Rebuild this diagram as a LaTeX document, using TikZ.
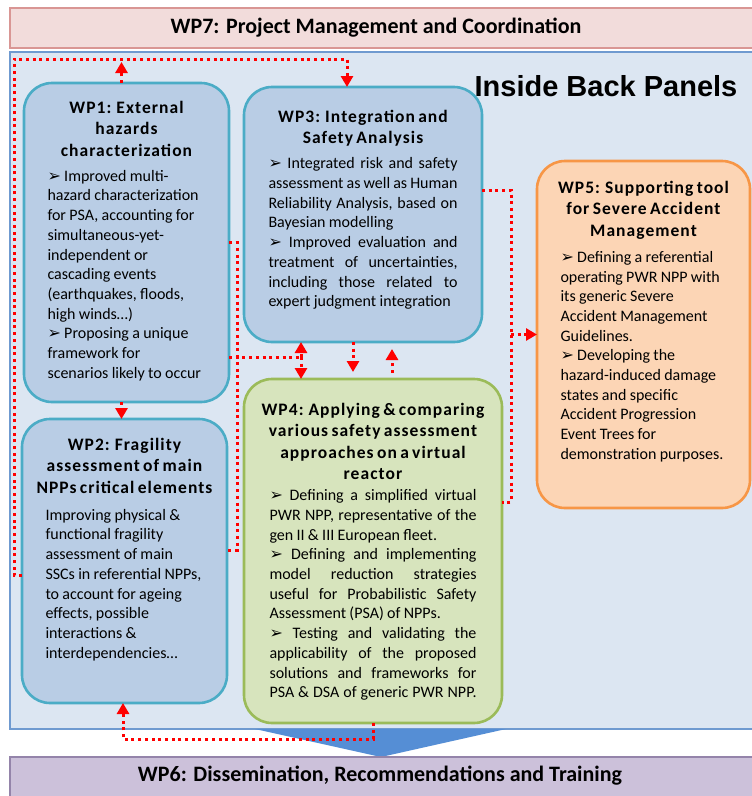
\documentclass[tikz,border=0pt]{standalone}
\usepackage{fontspec}
\setmainfont{Carlito}
\newfontfamily\panelfont{Liberation Sans}
\newfontfamily\dingfont{DejaVu Sans}
\usetikzlibrary{arrows.meta}
\usetikzlibrary{positioning}

\definecolor{pinkfill}{HTML}{F2DCDB}
\definecolor{pinkline}{HTML}{D99694}
\definecolor{panelfill}{HTML}{DCE6F2}
\definecolor{panelline}{HTML}{6F9AD0}
\definecolor{wpblue}{HTML}{B9CDE5}
\definecolor{wpteal}{HTML}{4BACC6}
\definecolor{wpgreen}{HTML}{D7E4BD}
\definecolor{wpgreenline}{HTML}{9BBB59}
\definecolor{wporange}{HTML}{FCD5B5}
\definecolor{wporangeline}{HTML}{F79646}
\definecolor{lilac}{HTML}{CCC1DA}
\definecolor{lilacline}{HTML}{9484AA}
\definecolor{arrowblue}{HTML}{558ED5}

\newlength{\bodywd}
\newcommand{\bul}{{\dingfont\fontsize{16}{16}\selectfont ➢}}
\newcommand{\jl}[1]{\hbox to \bodywd{\spaceskip=0.226em plus 3em minus 0.05em #1}\par}
\newcommand{\wptitle}[1]{{\centering\leftskip=-20pt plus 1fil\rightskip=-20pt plus 1fil
    \fontsize{17.5}{21.5}\selectfont\bfseries\addfontfeatures{LetterSpace=6}#1\par}}
\newcommand{\wpbody}[2]{\vspace{#1}{\raggedright\fontsize{16}{19.7}\selectfont #2\par}}

\begin{document}
\begin{tikzpicture}[x=1pt, y=-1pt,
    link/.style={red, line width=3pt, dash pattern=on 3pt off 3.7pt},
    arr/.style={-{Triangle[width=12pt,length=11pt]}},
    wpbox/.style={draw, line width=2.6pt, rounded corners=28pt, inner sep=0pt, outer sep=0pt},
    bluebox/.style={wpbox, draw=wpteal, fill=wpblue},
    greenbox/.style={wpbox, draw=wpgreenline, fill=wpgreen},
    orangebox/.style={wpbox, draw=wporangeline, fill=wporange},
    wptext/.style={inner sep=0pt, outer sep=0pt},
    bandtext/.style={font=\fontsize{22}{22}\selectfont\bfseries}]

    \useasboundingbox (0,0) rectangle (752,796);
    \clip (0,0) rectangle (752,796);
    \fill[white] (0,0) rectangle (752,796);

    \draw[pinkline, fill=pinkfill, line width=1.2pt] (10,8) rectangle (780,48);
    \node[bandtext] (wp7) at (376,28) {WP7: Project Management and Coordination};
    \draw[panelline, fill=panelfill, line width=1.2pt] (10,52) rectangle (780,729);
    \fill[arrowblue] (255,729) -- (506,729) -- (381,757) -- cycle;
    \draw[lilacline, fill=lilac, line width=1.2pt] (10,757) rectangle (780,820);
    \node[bandtext] (wp6) at (380,776) {WP6: Dissemination, Recommendations and Training};
    \node[font=\panelfont\bfseries\fontsize{29}{29}\selectfont] (panel) at (606,86) {Inside Back Panels};

    \node[bluebox, minimum width=205pt, minimum height=319pt] (wp1) at (126.5,242.5) {};
    \node[bluebox, minimum width=205pt, minimum height=284pt] (wp2) at (124.5,561) {};
    \node[bluebox, minimum width=238pt, minimum height=255pt] (wp3) at (363,214.5) {};
    \node[greenbox, minimum width=258pt, minimum height=344pt] (wp4) at (373,551) {};
    \node[orangebox, minimum width=213pt, minimum height=347pt] (wp5) at (643.5,334.5) {};

    \node[wptext, text width=158pt, below=18pt of wp1.north] (wp1text) {%
        \wptitle{WP1: External\\ hazards\\ characterization}%
        \wpbody{5.3pt}{\bul{} Improved multi-\\ hazard characterization\\ for PSA, accounting for\\
        simultaneous-yet-\\ independent or\\ cascading events\\ (earthquakes, floods,\\ high winds…)\\
        \bul{} Proposing a unique\\ framework for\\ scenarios likely to occur}};
    \node[wptext, text width=158pt, below=19pt of wp2.north] (wp2text) {%
        \wptitle{WP2: Fragility\\ assessment of main\\ NPPs critical elements}%
        \wpbody{7.3pt}{Improving physical \&\\ functional fragility\\ assessment of main\\
        SSCs in referential NPPs,\\ to account for ageing\\ effects, possible\\ interactions \&\\ interdependencies…}};
    \node[wptext, text width=189pt, below=23pt of wp3.north] (wp3text) {%
        \setlength{\bodywd}{189pt}%
        \wptitle{WP3: Integration and\\ Safety Analysis}%
        \wpbody{5.3pt}{\jl{\bul{} Integrated risk and safety}
        \jl{assessment as well as Human}
        \jl{Reliability Analysis, based on}
        Bayesian modelling\par
        \jl{\bul{} Improved evaluation and}
        \jl{treatment of uncertainties,}
        \jl{including those related to}
        expert judgment integration}};
    \node[wptext, text width=207pt, below=24pt of wp4.north] (wp4text) {%
        \setlength{\bodywd}{207pt}%
        \wptitle{WP4: Applying \& comparing\\ various safety assessment\\ approaches on a virtual\\ reactor}%
        \wpbody{1.3pt}{\jl{\bul{} Defining a simplified virtual}
        \jl{PWR NPP, representative of the}
        gen II \& III European fleet.\par
        \jl{\bul{} Defining and implementing}
        \jl{model reduction strategies}
        \jl{useful for Probabilistic Safety}
        Assessment (PSA) of NPPs.\par
        \jl{\bul{} Testing and validating the}
        \jl{applicability of the proposed}
        \jl{solutions and frameworks for}
        \jl{PSA \& DSA of generic PWR NPP.}}};
    \node[wptext, text width=166pt, below=20pt of wp5.north] (wp5text) {%
        \wptitle{WP5: Supporting tool\\ for Severe Accident\\ Management}%
        \wpbody{6.3pt}{\bul{} Defining a referential\\ operating PWR NPP with\\ its generic Severe\\
        Accident Management\\ Guidelines.\\ \bul{} Developing the\\ hazard-induced damage\\
        states and specific\\ Accident Progression\\ Event Trees for\\ demonstration purposes.}};

    \coordinate (tl) at (14,59);
    \coordinate (tr) at (347,59);
    \coordinate (jn) at (301,357);
    \coordinate (bus) at (511,334.5);
    \coordinate (bt) at (123,739);

    \draw[link, arr] ([yshift=-14pt]wp2.west) -| (tl) -- (tr) -- (tr |- wp3.north);
    \draw[link, arr] ([xshift=-5pt]wp1.north) -- ([xshift=-5pt,yshift=-3pt]wp1.north |- tl);
    \draw[link, arr] ([xshift=-5pt]wp1.south) -- ([xshift=-5pt]wp1.south |- wp2.north);
    \draw[link] (wp1.east) -- ++(8,0) |- ([yshift=11pt]wp2.east);
    \draw[link] (wp1.east |- jn) -- (jn);
    \draw[link, arr] (jn) -- (jn |- wp3.south);
    \draw[link, arr] (jn) -- (jn |- wp4.north);
    \draw[link, arr] ([xshift=-10pt]wp3.south) -- ++(0,30);
    \draw[link, arr] ([xshift=19pt,yshift=6pt]wp4.north) -- ++(0,-24);
    \draw[link] ([yshift=24.5pt]wp3.east) -| (bus) |- ([yshift=49pt]wp4.east);
    \draw[link, arr] (bus) -- (wp5.west);
    \draw[link, arr] (wp4.south) |- (bt) -- (bt |- wp2.south);
\end{tikzpicture}
\end{document}
